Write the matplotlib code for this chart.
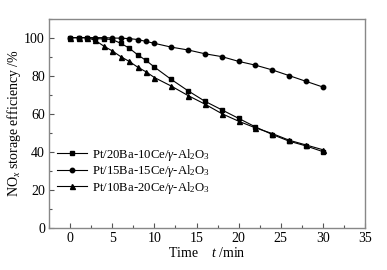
import matplotlib.pyplot as plt
from matplotlib.ticker import MultipleLocator

plt.rcParams['font.family'] = ['Liberation Serif', 'DejaVu Serif']
plt.rcParams['mathtext.fontset'] = 'custom'
plt.rcParams['mathtext.rm'] = 'Liberation Serif'
plt.rcParams['mathtext.it'] = 'Liberation Serif:italic'

# data
t_sq = [0, 1, 2, 3, 4, 5, 6, 7, 8, 9, 10, 12, 14, 16, 18, 20, 22, 24, 26, 28, 30]
eff_sq = [100, 100, 100, 99.5, 99.3, 99, 97, 94.5, 91, 88, 84.5, 78, 72, 66.5, 62, 57.5, 53, 49, 45.5, 43, 40]

t_ci = [0, 1, 2, 3, 4, 5, 6, 7, 8, 9, 10, 12, 14, 16, 18, 20, 22, 24, 26, 28, 30]
eff_ci = [100, 100, 100, 100, 100, 99.8, 99.7, 99.5, 99, 98, 97, 95, 93.5, 91.5, 90, 87.5, 85.5, 83, 80, 77, 74]

t_tr = [0, 1, 2, 3, 4, 5, 6, 7, 8, 9, 10, 12, 14, 16, 18, 20, 22, 24, 26, 28, 30]
eff_tr = [100, 100, 100, 98.5, 95.5, 93, 90, 87.5, 84.5, 82, 79, 74.5, 69.5, 65, 60, 56, 52.5, 49.5, 46, 43.5, 41]

labels = [r'Pt/20Ba-10Ce/$\gamma$-Al$_2$O$_3$',
          r'Pt/15Ba-15Ce/$\gamma$-Al$_2$O$_3$',
          r'Pt/10Ba-20Ce/$\gamma$-Al$_2$O$_3$']

fig = plt.figure(figsize=(3.87, 2.70), dpi=100)
ax = fig.add_axes([0.127, 0.157, 0.816, 0.774])

ms = 3.2
ax.plot(t_sq, eff_sq, '-s', color='black', lw=0.8, ms=ms, label=labels[0])
ax.plot(t_ci, eff_ci, '-o', color='black', lw=0.8, ms=ms, label=labels[1])
ax.plot(t_tr, eff_tr, '-^', color='black', lw=0.8, ms=ms + 0.4, label=labels[2])

ax.set_xlim(-2.5, 35)
ax.set_ylim(0, 110)
ax.xaxis.set_major_locator(MultipleLocator(5))
ax.xaxis.set_minor_locator(MultipleLocator(2.5))
ax.yaxis.set_major_locator(MultipleLocator(20))
ax.yaxis.set_minor_locator(MultipleLocator(10))
ax.tick_params(which='both', direction='in', top=False, right=False,
               labelsize=10, color='#555555', pad=3)
ax.tick_params(which='major', length=3.5, width=0.8)
ax.tick_params(which='minor', length=2, width=0.8)
for s in ax.spines.values():
    s.set_color('#888888')
    s.set_linewidth(1.0)

ax.set_xlabel(r'Time    $t$ /min', fontsize=10, labelpad=1)
ax.set_ylabel(r'NO$_x$ storage efficiency /%', fontsize=10, labelpad=1)

ax.legend(loc='lower left', bbox_to_anchor=(0.0, 0.115), frameon=False,
          fontsize=9.2, handlelength=2.4, handletextpad=0.35, labelspacing=0.05,
          borderaxespad=0.2)

fig.savefig('out.png', dpi=100)
